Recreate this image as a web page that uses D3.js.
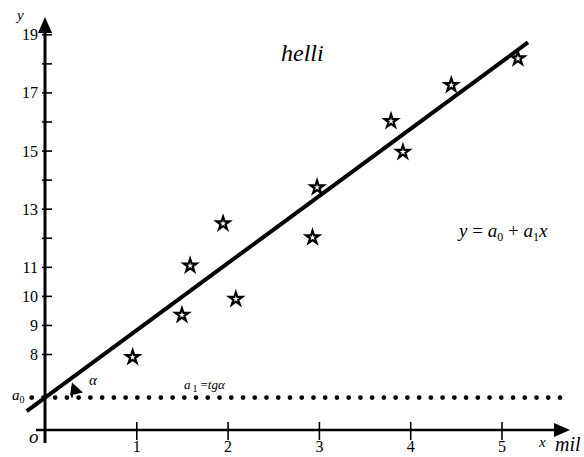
<!DOCTYPE html>
<html>
<head>
<meta charset="utf-8">
<script src="https://cdn.jsdelivr.net/npm/d3@7"></script>
<style>
  html, body { margin: 0; padding: 0; background: #fff; }
  svg { display: block; }
</style>
</head>
<body>
<svg id="chart" width="584" height="457" font-family="Liberation Serif"></svg>
<script>
// ---- data ----
const starX = [0.96, 1.50, 1.59, 1.95, 2.09, 2.93, 2.98, 3.79, 3.92, 4.45, 5.18];
const starY = [7.89, 9.34, 11.04, 12.49, 9.89, 12.01, 13.73, 16.01, 14.95, 17.25, 18.17];
const a0 = 6.5;
const a1 = 2.31;
const fitRange = [-0.2, 5.29];
const xTicks = [1, 2, 3, 4, 5];
const yTicks = [8, 9, 10, 11, 12, 13, 14, 15, 16, 17, 18, 19];
const yTickLabels = [8, 9, 10, 11, 13, 15, 17, 19];

// ---- layout ----
const originX = 45, originY = 430;
const svg = d3.select("#chart");
const FONT = "Liberation Serif";

const x = d3.scaleLinear().domain([0, 5]).range([originX, 501.5]);
const y = d3.scaleLinear().domain([8, 19]).range([354, 34.3]);

// dotted a0 line
svg.append("line")
  .attr("x1", 31.7).attr("x2", 561)
  .attr("y1", y(a0)).attr("y2", y(a0))
  .attr("stroke", "#000").attr("stroke-width", 4.8)
  .attr("stroke-linecap", "round")
  .attr("stroke-dasharray", "0 11.74");

// x axis
const xAxis = svg.append("g")
  .attr("transform", `translate(0,${originY})`)
  .call(d3.axisBottom(x).tickValues(xTicks).tickFormat(d3.format("d")).tickSize(10));
xAxis.attr("font-family", FONT).attr("font-size", 16);
xAxis.select(".domain").remove();
xAxis.selectAll(".tick line").attr("y1", -8).attr("y2", 10).attr("stroke", "#000").attr("stroke-width", 1.6);
xAxis.selectAll(".tick text")
  .attr("y", 22).attr("dy", 0)
  .attr("font-family", FONT).attr("font-size", 16).attr("fill", "#000");

svg.append("line")
  .attr("x1", 36).attr("x2", 556)
  .attr("y1", originY).attr("y2", originY)
  .attr("stroke", "#000").attr("stroke-width", 2.6);
svg.append("path")
  .attr("d", `M570,${originY} L554,${originY - 7} L554,${originY + 7} Z`)
  .attr("fill", "#000");

// y axis
const yAxis = svg.append("g")
  .attr("transform", `translate(${originX},0)`)
  .call(d3.axisLeft(y).tickValues(yTicks)
    .tickFormat(d => yTickLabels.includes(d) ? d3.format("d")(d) : "").tickSize(6));
yAxis.attr("font-family", FONT).attr("font-size", 16);
yAxis.select(".domain").remove();
yAxis.selectAll(".tick line").attr("x1", -3).attr("x2", 7).attr("stroke", "#000").attr("stroke-width", 1.6);
yAxis.selectAll(".tick text")
  .attr("x", -7).attr("dy", "0.34em")
  .attr("font-family", FONT).attr("font-size", 16).attr("fill", "#000");

svg.append("line")
  .attr("x1", originX).attr("x2", originX)
  .attr("y1", 443).attr("y2", 30)
  .attr("stroke", "#000").attr("stroke-width", 3);
svg.append("path")
  .attr("d", `M${originX},17 L${originX - 7},33 L${originX + 7},33 Z`)
  .attr("fill", "#000");

// fit line
svg.append("line")
  .attr("x1", x(fitRange[0])).attr("y1", y(a0 + a1 * fitRange[0]))
  .attr("x2", x(fitRange[1])).attr("y2", y(a0 + a1 * fitRange[1]))
  .attr("stroke", "#000").attr("stroke-width", 4);

// stars
const star = d3.symbol().type(d3.symbolStar).size(52);
svg.append("g").selectAll("path")
  .data(starX.map((v, i) => [v, starY[i]]))
  .join("path")
  .attr("transform", d => `translate(${x(d[0])},${y(d[1])})`)
  .attr("d", star)
  .attr("fill", "#fff").attr("stroke", "#000").attr("stroke-width", 2.2)
  .attr("stroke-linejoin", "miter");

// angle arrowhead
const ax = originX, ay = y(a0);
svg.append("path")
  .attr("d", `M${ax + 27},${ay - 15} L${ax + 38},${ay - 5} L${ax + 25},${ay - 2} Z`)
  .attr("fill", "#000");
svg.append("line")
  .attr("x1", ax + 27).attr("x2", ax + 27)
  .attr("y1", ay - 10).attr("y2", ay)
  .attr("stroke", "#000").attr("stroke-width", 2);

// texts
function label(px, py, size, italic) {
  return svg.append("text").attr("x", px).attr("y", py)
    .attr("font-family", FONT).attr("font-size", size)
    .attr("font-style", italic ? "italic" : "normal").attr("fill", "#000");
}

label(89, 385, 15, true).text("α");

const t1 = label(184, 389, 13, false);
t1.append("tspan").attr("font-style", "italic").text("a");
t1.append("tspan").attr("dx", 2).attr("dy", 3).attr("font-size", 10).text("1");
t1.append("tspan").attr("dx", 3).attr("dy", -3).text("=");
t1.append("tspan").attr("font-style", "italic").text("tgα");

const t0 = label(12, 400, 15, false);
t0.append("tspan").attr("font-style", "italic").text("a");
t0.append("tspan").attr("dy", 3).attr("font-size", 10).text("0");

label(281, 61, 24, true).text("helli");

const eq = label(459, 237, 19, false);
eq.append("tspan").attr("font-style", "italic").text("y");
eq.append("tspan").text(" = ");
eq.append("tspan").attr("font-style", "italic").text("a");
eq.append("tspan").attr("dy", 4).attr("font-size", 12).text("0");
eq.append("tspan").attr("dy", -4).text(" + ");
eq.append("tspan").attr("font-style", "italic").text("a");
eq.append("tspan").attr("dy", 4).attr("font-size", 12).text("1");
eq.append("tspan").attr("dy", -4).attr("font-style", "italic").text("x");

label(17, 20, 15, true).text("y");
label(29, 443, 19, true).text("o");
label(539, 447, 15, true).text("x");
label(555, 451, 20, true).text("mil");
</script>
</body>
</html>
